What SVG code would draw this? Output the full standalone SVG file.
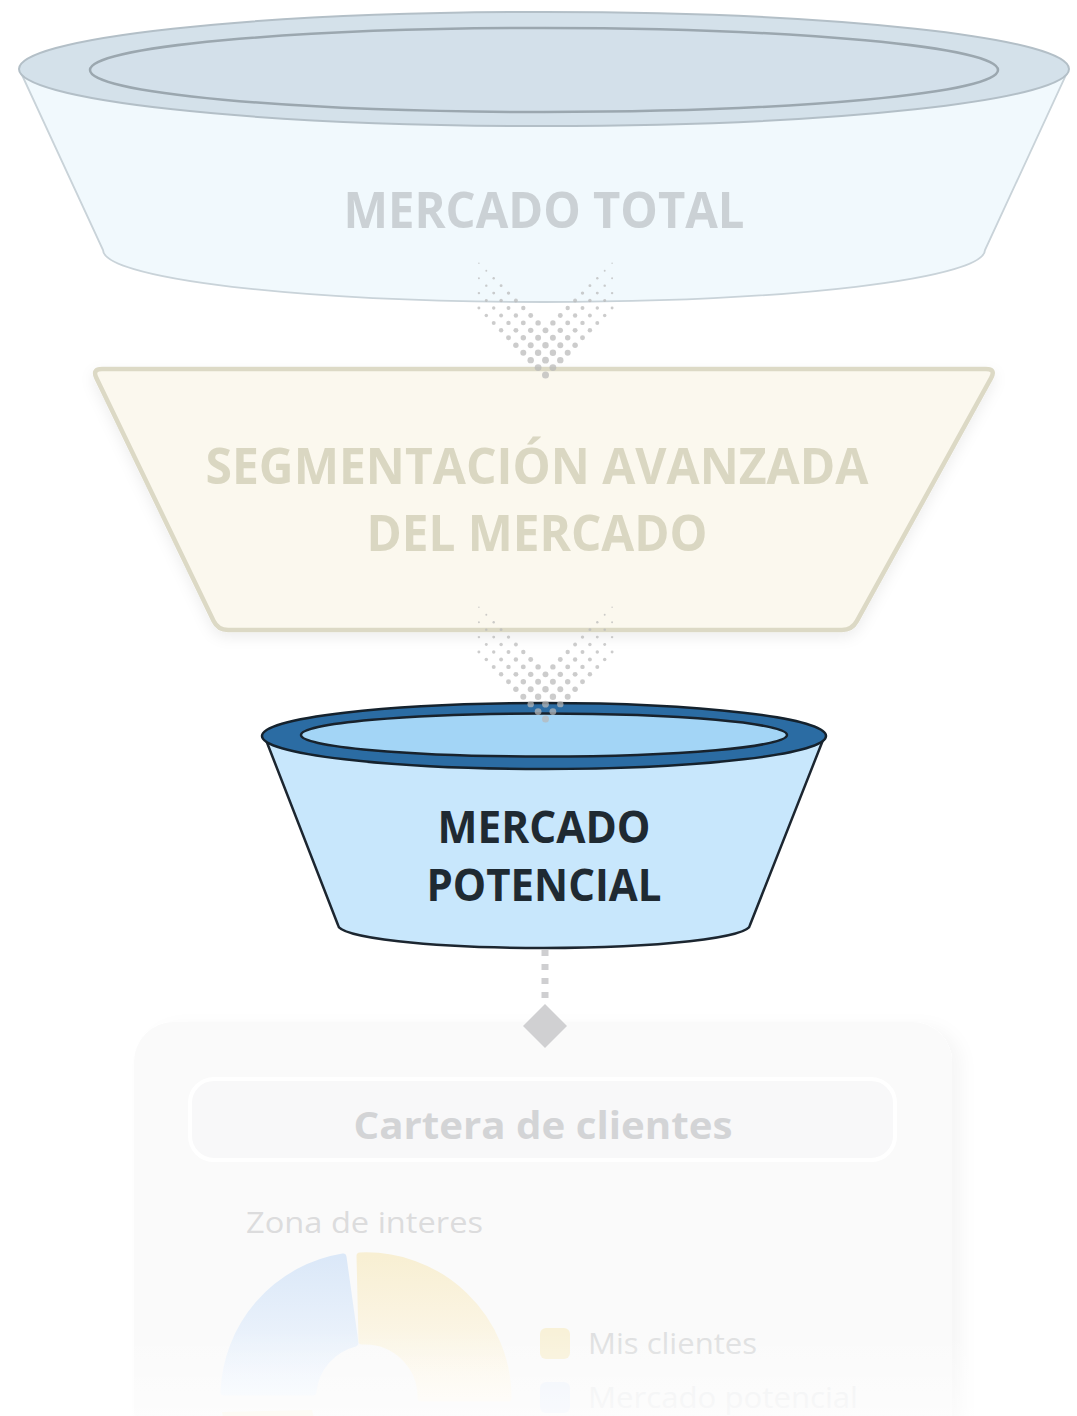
<svg xmlns="http://www.w3.org/2000/svg" width="1077" height="1416" viewBox="0 0 1077 1416">
<style>
.t{font-family:"Open Sans","Noto Sans","Liberation Sans",sans-serif;font-weight:700;text-anchor:middle}
.n{font-family:"Open Sans","Noto Sans","Liberation Sans",sans-serif;font-weight:400}
.dot{fill:#b9b9b9;fill-opacity:0.72}
</style>
<defs>
<filter id="sh" x="-10%" y="-10%" width="120%" height="130%"><feDropShadow dx="0" dy="5" stdDeviation="7" flood-color="#000" flood-opacity="0.07"/></filter>
<filter id="csh" x="-10%" y="-10%" width="125%" height="130%"><feDropShadow dx="10" dy="4" stdDeviation="8" flood-color="#000" flood-opacity="0.035"/></filter>
<linearGradient id="gb" x1="0" y1="0" x2="0" y2="1"><stop offset="0" stop-color="#dbe8f8"/><stop offset="1" stop-color="#f4f8fd"/></linearGradient>
<linearGradient id="gy" x1="0" y1="0" x2="0" y2="1"><stop offset="0" stop-color="#f8efd3"/><stop offset="1" stop-color="#fdfaf3"/></linearGradient>
<linearGradient id="fade" x1="0" y1="0" x2="0" y2="1"><stop offset="0" stop-color="#fff" stop-opacity="0"/><stop offset="1" stop-color="#fff" stop-opacity="0.55"/></linearGradient>
<g id="dots">
<circle class="dot" cx="-66.6" cy="0" r="0.7"/><circle class="dot" cx="66.6" cy="0" r="0.7"/>
<circle class="dot" cx="-59.2" cy="7.45" r="0.95"/><circle class="dot" cx="59.2" cy="7.45" r="0.95"/>
<circle class="dot" cx="-66.6" cy="14.9" r="0.96"/><circle class="dot" cx="66.6" cy="14.9" r="0.96"/><circle class="dot" cx="-51.8" cy="14.9" r="1.2"/><circle class="dot" cx="51.8" cy="14.9" r="1.2"/>
<circle class="dot" cx="-59.2" cy="22.35" r="1.21"/><circle class="dot" cx="59.2" cy="22.35" r="1.21"/><circle class="dot" cx="-44.4" cy="22.35" r="1.45"/><circle class="dot" cx="44.4" cy="22.35" r="1.45"/>
<circle class="dot" cx="-66.6" cy="29.8" r="1.22"/><circle class="dot" cx="66.6" cy="29.8" r="1.22"/><circle class="dot" cx="-51.8" cy="29.8" r="1.46"/><circle class="dot" cx="51.8" cy="29.8" r="1.46"/><circle class="dot" cx="-37" cy="29.8" r="1.7"/><circle class="dot" cx="37" cy="29.8" r="1.7"/>
<circle class="dot" cx="-59.2" cy="37.25" r="1.47"/><circle class="dot" cx="59.2" cy="37.25" r="1.47"/><circle class="dot" cx="-44.4" cy="37.25" r="1.71"/><circle class="dot" cx="44.4" cy="37.25" r="1.71"/><circle class="dot" cx="-29.6" cy="37.25" r="1.95"/><circle class="dot" cx="29.6" cy="37.25" r="1.95"/>
<circle class="dot" cx="-66.6" cy="44.7" r="1.48"/><circle class="dot" cx="66.6" cy="44.7" r="1.48"/><circle class="dot" cx="-51.8" cy="44.7" r="1.72"/><circle class="dot" cx="51.8" cy="44.7" r="1.72"/><circle class="dot" cx="-37" cy="44.7" r="1.96"/><circle class="dot" cx="37" cy="44.7" r="1.96"/><circle class="dot" cx="-22.2" cy="44.7" r="2.2"/><circle class="dot" cx="22.2" cy="44.7" r="2.2"/>
<circle class="dot" cx="-59.2" cy="52.15" r="1.73"/><circle class="dot" cx="59.2" cy="52.15" r="1.73"/><circle class="dot" cx="-44.4" cy="52.15" r="1.97"/><circle class="dot" cx="44.4" cy="52.15" r="1.97"/><circle class="dot" cx="-29.6" cy="52.15" r="2.21"/><circle class="dot" cx="29.6" cy="52.15" r="2.21"/><circle class="dot" cx="-14.8" cy="52.15" r="2.45"/><circle class="dot" cx="14.8" cy="52.15" r="2.45"/>
<circle class="dot" cx="-51.8" cy="59.6" r="1.98"/><circle class="dot" cx="51.8" cy="59.6" r="1.98"/><circle class="dot" cx="-37" cy="59.6" r="2.22"/><circle class="dot" cx="37" cy="59.6" r="2.22"/><circle class="dot" cx="-22.2" cy="59.6" r="2.46"/><circle class="dot" cx="22.2" cy="59.6" r="2.46"/><circle class="dot" cx="-7.4" cy="59.6" r="2.7"/><circle class="dot" cx="7.4" cy="59.6" r="2.7"/>
<circle class="dot" cx="-44.4" cy="67.05" r="2.23"/><circle class="dot" cx="44.4" cy="67.05" r="2.23"/><circle class="dot" cx="-29.6" cy="67.05" r="2.47"/><circle class="dot" cx="29.6" cy="67.05" r="2.47"/><circle class="dot" cx="-14.8" cy="67.05" r="2.71"/><circle class="dot" cx="14.8" cy="67.05" r="2.71"/><circle class="dot" cx="0" cy="67.05" r="2.95"/>
<circle class="dot" cx="-37" cy="74.5" r="2.48"/><circle class="dot" cx="37" cy="74.5" r="2.48"/><circle class="dot" cx="-22.2" cy="74.5" r="2.72"/><circle class="dot" cx="22.2" cy="74.5" r="2.72"/><circle class="dot" cx="-7.4" cy="74.5" r="2.96"/><circle class="dot" cx="7.4" cy="74.5" r="2.96"/>
<circle class="dot" cx="-29.6" cy="81.95" r="2.73"/><circle class="dot" cx="29.6" cy="81.95" r="2.73"/><circle class="dot" cx="-14.8" cy="81.95" r="2.97"/><circle class="dot" cx="14.8" cy="81.95" r="2.97"/><circle class="dot" cx="0" cy="81.95" r="3.2"/>
<circle class="dot" cx="-22.2" cy="89.4" r="2.98"/><circle class="dot" cx="22.2" cy="89.4" r="2.98"/><circle class="dot" cx="-7.4" cy="89.4" r="3.2"/><circle class="dot" cx="7.4" cy="89.4" r="3.2"/>
<circle class="dot" cx="-14.8" cy="96.85" r="3.2"/><circle class="dot" cx="14.8" cy="96.85" r="3.2"/><circle class="dot" cx="0" cy="96.85" r="3.4"/>
<circle class="dot" cx="-7.4" cy="104.3" r="3.4"/><circle class="dot" cx="7.4" cy="104.3" r="3.4"/>
<circle class="dot" cx="0" cy="111.75" r="3.5"/>
</g>
</defs>
<rect width="1077" height="1416" fill="#ffffff"/>

<g id="node-cartera">
<rect x="134" y="1022" width="818" height="430" rx="40" fill="#fafafa" filter="url(#csh)"/>
<rect x="190" y="1079" width="705" height="81" rx="24" fill="#f8f8f9" stroke="#ffffff" stroke-width="4"/>
<text class="t" x="543" y="1139" font-size="38" fill="#d3d4d6" textLength="379" lengthAdjust="spacingAndGlyphs">Cartera de clientes</text>
<text class="n" x="246" y="1233" font-size="30" fill="#dcdcdd" textLength="237" lengthAdjust="spacingAndGlyphs">Zona de interes</text>
<path d="M 224 1392 A 142 142 0 0 1 343 1257 L 355 1343 A 56 56 0 0 0 313 1392 Z" fill="url(#gb)" stroke="url(#gb)" stroke-width="7" stroke-linejoin="round"/>
<path d="M 360 1256 A 142 142 0 0 1 508 1398 L 421 1398 A 56 56 0 0 0 362 1341 Z" fill="url(#gy)" stroke="url(#gy)" stroke-width="7" stroke-linejoin="round"/>
<path d="M 222 1412 A 142 142 0 0 0 230 1440 L 315 1420 A 56 56 0 0 1 312 1410 Z" fill="#fbf7ea"/>
<rect x="540" y="1328" width="30" height="31" rx="6" fill="#f8f1d8"/>
<text class="n" x="588" y="1354" font-size="30" fill="#dedfe0" textLength="169" lengthAdjust="spacingAndGlyphs">Mis clientes</text>
<rect x="540" y="1382" width="30" height="31" rx="6" fill="#f0f4fb"/>
<text class="n" x="588" y="1408" font-size="30" fill="#eff0f1" textLength="270" lengthAdjust="spacingAndGlyphs">Mercado potencial</text>
<rect x="0" y="1330" width="1077" height="86" fill="url(#fade)"/>
</g>

<g id="node-mercado-total">
<path d="M 22 75 L 103 250 A 441 52 0 0 0 985 250 L 1066 75 Z" fill="#f1f9fd" stroke="#c9d3d9" stroke-width="1.8"/>
<ellipse cx="544" cy="69" rx="525" ry="57" fill="#d4e1ea" stroke="#b3bfc7" stroke-width="2"/>
<ellipse cx="544" cy="70" rx="454" ry="42" fill="#d3e0ea" stroke="#9ba7af" stroke-width="2.5"/>
<text class="t" x="544" y="228" font-size="50" fill="#cbd1d5" textLength="401" lengthAdjust="spacingAndGlyphs">MERCADO TOTAL</text>
</g>

<g id="node-segmentacion">
<path d="M 102 369 L 986 369 Q 996 369 991.2 377.8 L 856.8 621.2 Q 852 630 842 630 L 228 630 Q 218 630 213.6 621 L 96.4 378 Q 92 369 102 369 Z" fill="#fbf8ee" stroke="#dcd9c5" stroke-width="4.5" stroke-linejoin="round" filter="url(#sh)"/>
<text class="t" x="537" y="484" font-size="50" fill="#dad7c2" textLength="663" lengthAdjust="spacingAndGlyphs">SEGMENTACIÓN AVANZADA</text>
<text class="t" x="537" y="551" font-size="50" fill="#dad7c2" textLength="341" lengthAdjust="spacingAndGlyphs">DEL MERCADO</text>
</g>

<g id="node-mercado-potencial">
<path d="M 266 740 L 338 925 A 206 23 0 0 0 750 925 L 823 740 Z" fill="#c8e7fc" stroke="#1c2630" stroke-width="2.5" stroke-linejoin="round"/>
<ellipse cx="544" cy="736" rx="282" ry="33" fill="#2b6ca3" stroke="#15222d" stroke-width="2.5"/>
<ellipse cx="544" cy="735" rx="243" ry="21.5" fill="#a3d5f6" stroke="#18222c" stroke-width="2.5"/>
<text class="t" x="544" y="843" font-size="45" fill="#1f2a32" textLength="213" lengthAdjust="spacingAndGlyphs">MERCADO</text>
<text class="t" x="544" y="901" font-size="45" fill="#1f2a32" textLength="235" lengthAdjust="spacingAndGlyphs">POTENCIAL</text>
</g>

<g id="connectors">
<use href="#dots" x="545.5" y="263.3"/>
<use href="#dots" x="545.5" y="607.3"/>
<line x1="545" y1="950" x2="545" y2="1002" stroke="#cfcfd1" stroke-width="7" stroke-dasharray="6 8"/>
<path d="M 545 1004 L 567 1026 L 545 1048 L 523 1026 Z" fill="#d0d0d2"/>
</g>
</svg>
